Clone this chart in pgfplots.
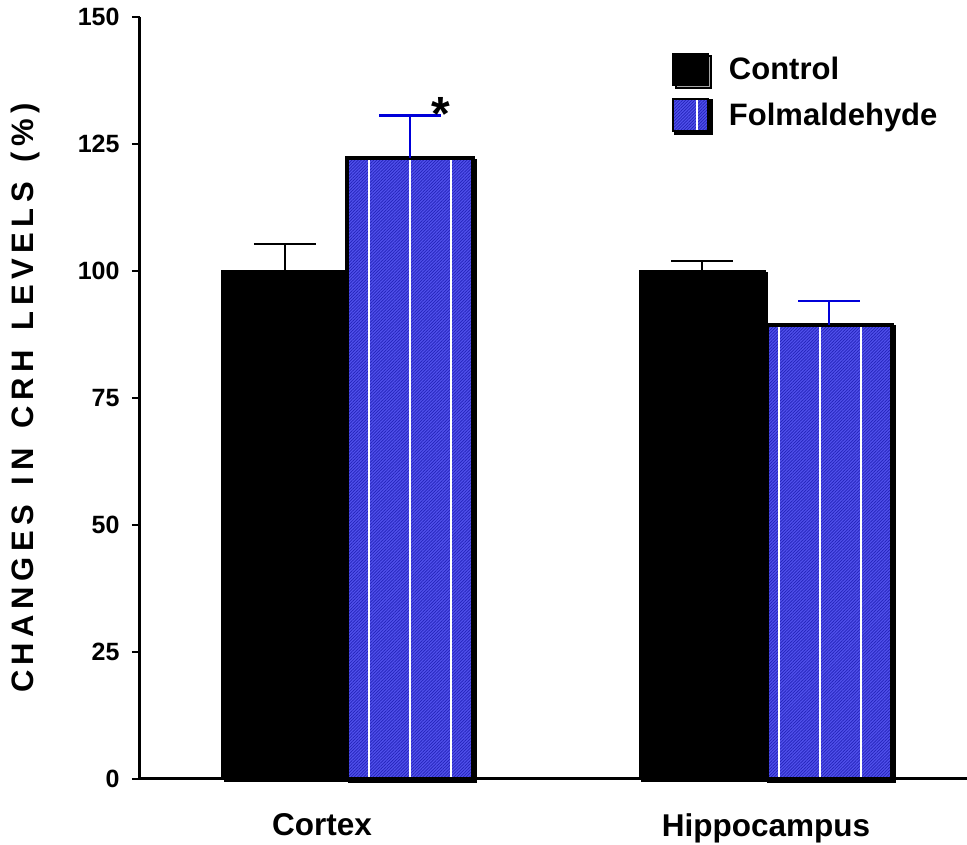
\documentclass[border=0pt]{standalone}
\usepackage{pgfplots}
\pgfplotsset{compat=1.18}
\usepackage{fontspec}
\setmainfont{Liberation Sans}
\usetikzlibrary{patterns.meta,shadows}

\definecolor{folmblue}{RGB}{80,80,235}
\definecolor{hatchblue}{RGB}{35,35,185}
% spaced-out capitals for the y label
\newcommand\lk{\kern5.5pt}
\newcommand\wg{\hspace{20pt}}

\begin{document}
\begin{tikzpicture}
\begin{axis}[
  scale only axis,
  width=827pt, height=762pt,
  xmin=140, xmax=967,
  ymin=0, ymax=150,
  axis x line=bottom, axis y line=left,
  axis line style={line width=3pt, -},
  ytick={0,25,...,150},
  xtick={322,766},
  xticklabels={Cortex,Hippocampus},
  x tick style={draw=none},
  y tick style={line width=2pt, black},
  tick align=outside,
  major tick length=8pt,
  /pgf/number format/assume math mode=true,
  yticklabel style={font=\fontsize{25}{28}\selectfont\bfseries, xshift=-9pt},
  xticklabel style={font=\fontsize{31.5}{34}\selectfont\bfseries, yshift=-23pt},
  ylabel={C\lk H\lk A\lk N\lk G\lk E\lk S\wg I\lk N\wg C\lk R\lk H\wg L\lk E\lk V\lk E\lk L\lk S\wg (\lk\%\lk)},
  ylabel style={font=\fontsize{31}{34}\selectfont\bfseries},
  ylabel shift=31pt,
  ybar, bar width=125, bar shift=0pt,
  legend cell align=left,
  legend style={draw=none, fill=none, at={(rel axis cs:0.64,0.956)}, anchor=north west,
    font=\fontsize{31}{34}\selectfont\bfseries, row sep=12pt},
  legend image code/.code={\draw[#1, line width=1.5pt] (0pt,-16pt) rectangle (35pt,16pt);},
  clip=false,
]
% Control bars with upper standard-error whiskers
\addplot[fill=black, draw=black, line width=2pt,
  drop shadow={shadow xshift=2.5pt, shadow yshift=-2.5pt, fill=gray!70, opacity=1},
  error bars/.cd, y dir=plus, y explicit,
  error bar style={line width=2.5pt, black},
  error mark options={rotate=90, mark size=31pt, line width=2.5pt, black}]
  coordinates {(285,100) +- (0,5.3) (702,100) +- (0,2.0)};
\addlegendentry{\hspace{18pt}Control}
% Formaldehyde-treated bars
\addplot[fill=folmblue, draw=black, line width=4pt,
  drop shadow={shadow xshift=2.5pt, shadow yshift=-2.5pt, fill=gray!70, opacity=1},
  postaction={pattern={Lines[angle=45,distance=2.2pt,line width=0.7pt]}, pattern color=hatchblue},
  postaction={pattern={Lines[angle=90,distance=41pt,line width=1.3pt]}, pattern color=white},
  error bars/.cd, y dir=plus, y explicit,
  error bar style={line width=2.5pt, blue!85!black},
  error mark options={rotate=90, mark size=31pt, line width=2.5pt, blue!85!black}]
  coordinates {(410,122.2) +- (0,8.4) (829,89.4) +- (0,4.7)};
\addlegendentry{\hspace{18pt}Folmaldehyde}
\node[font=\fontsize{48}{48}\selectfont\bfseries, anchor=center] at (axis cs:441,131) {*};
\coordinate (ll) at (rel axis cs:0,0);
\coordinate (ur) at (rel axis cs:1,1);
\end{axis}
\pgfresetboundingbox
\path[use as bounding box] ([xshift=-140pt,yshift=-66pt]ll) rectangle ([yshift=17pt]ur);
\end{tikzpicture}
\end{document}
